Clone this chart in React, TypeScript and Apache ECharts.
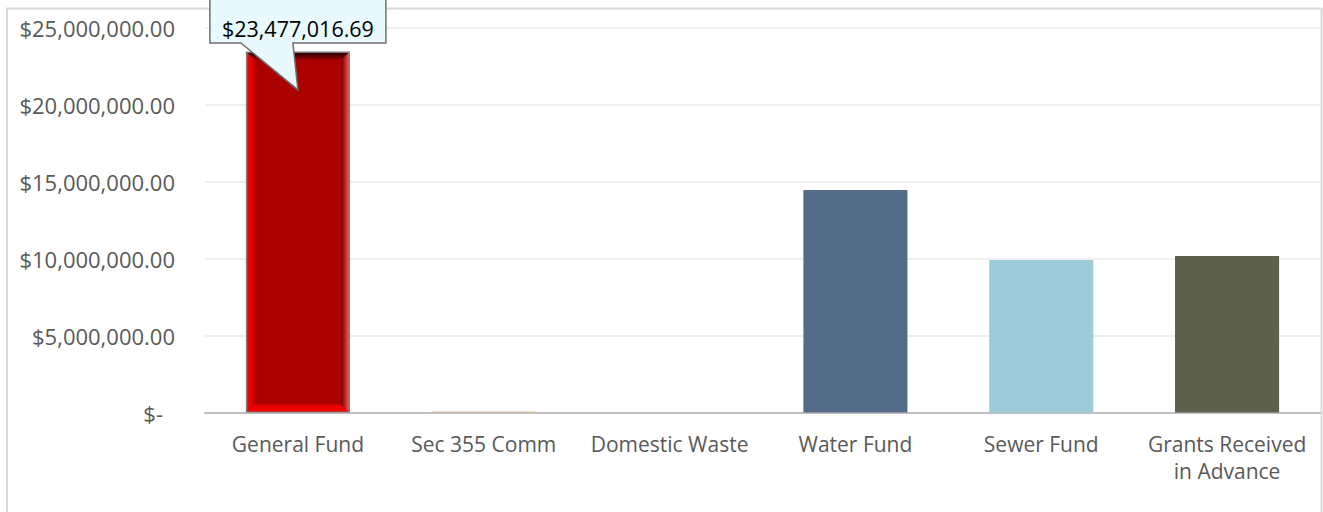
import React, { useEffect, useRef } from "react";
import * as echarts from "echarts";

const categories = [
  "General Fund",
  "Sec 355 Comm",
  "Domestic Waste",
  "Water Fund",
  "Sewer Fund",
  "Grants Received\nin Advance",
];
const values = [23477016.69, 75000, 0, 14470000, 9920000, 10180000];
const barColors = ["#AA0000", "#D9BF9E", "#C9C9C9", "#536D89", "#9DCBDA", "#5D614B"];
const yTicks = { min: 0, max: 25000000, interval: 5000000 };
const calloutIndex = 0;

const FONT = "'Open Sans', 'Noto Sans', sans-serif";

function money(v: number): string {
  return "$" + v.toLocaleString("en-US", { minimumFractionDigits: 2, maximumFractionDigits: 2 });
}

export default function App() {
  const ref = useRef<HTMLDivElement>(null);
  useEffect(() => {
    if (!ref.current) return;
    const chart = echarts.init(ref.current, undefined, { renderer: "svg" });
    const BAR_RATIO = 0.56;
    chart.setOption({
      animation: false,
      backgroundColor: "#ffffff",
      textStyle: { fontFamily: FONT },
      grid: { left: 205, right: 3, top: 28, bottom: 99.4, containLabel: false },
      graphic: [
        {
          type: "rect",
          z: -10,
          shape: { x: 7, y: 8.5, width: 1314.5, height: 600 },
          style: { fill: "none", stroke: "#d9d9d9", lineWidth: 2 },
        },
      ],
      xAxis: {
        type: "category",
        data: categories,
        axisLine: { lineStyle: { color: "#c0c0c0", width: 2 } },
        axisTick: { show: false },
        axisLabel: {
          interval: 0,
          color: "#595959",
          fontFamily: FONT,
          fontSize: 21,
          lineHeight: 27,
          margin: 18,
        },
      },
      yAxis: {
        type: "value",
        min: yTicks.min,
        max: yTicks.max,
        interval: yTicks.interval,
        axisLine: { show: false },
        axisTick: { show: false },
        splitLine: { lineStyle: { color: "#efefef", width: 2 } },
        axisLabel: {
          color: "#595959",
          fontFamily: FONT,
          fontSize: 22,
          margin: 30,
          formatter: (v: number) => (v === 0 ? "{z|$-}" : money(v)),
          rich: {
            z: { color: "#595959", fontFamily: FONT, fontSize: 22, padding: [0, 12, 0, 0] },
          },
        },
      },
      series: [
        {
          type: "bar",
          barWidth: BAR_RATIO * 100 + "%",
          z: 2,
          data: values.map((v, i) => ({
            value: v,
            itemStyle:
              i === calloutIndex
                ? { color: barColors[i], borderColor: "#7a7a7a", borderWidth: 3 }
                : { color: barColors[i] },
          })),
        },
        {
          type: "custom",
          z: 10,
          clip: false,
          data: [[calloutIndex, values[calloutIndex]]],
          renderItem: (params: any, api: any) => {
            const xi = api.value(0);
            const val = api.value(1);
            const top = api.coord([xi, val]);
            const base = api.coord([xi, 0]);
            const w = api.size([1, 0])[0] * BAR_RATIO;
            const cx = top[0];
            const ty = top[1];
            const x0 = cx - w / 2 + 1.5;
            const x1 = cx + w / 2 - 1.5;
            const y0 = ty + 1.5;
            const y1 = base[1] - 1;
            const b = 7;
            const lg = (x: number, y: number, x2: number, y2: number, c1: string, c2: string) =>
              new echarts.graphic.LinearGradient(x, y, x2, y2, [
                { offset: 0, color: c1 },
                { offset: 1, color: c2 },
              ]);
            const children: any[] = [
              {
                type: "polygon",
                shape: { points: [[x0, y0], [x1, y0], [x1 - b, y0 + b], [x0 + b, y0 + b]] },
                style: { fill: lg(0, 0, 0, 1, "#2a0000", "#9a0000") },
              },
              {
                type: "polygon",
                shape: { points: [[x0, y0], [x0 + b, y0 + b], [x0 + b, y1 - b], [x0, y1]] },
                style: { fill: lg(0, 0, 1, 0, "#ff0000", "#d00000") },
              },
              {
                type: "polygon",
                shape: { points: [[x0, y1], [x0 + b, y1 - b], [x1 - b, y1 - b], [x1, y1]] },
                style: { fill: lg(0, 1, 0, 0, "#ff0000", "#e00000") },
              },
              {
                type: "polygon",
                shape: { points: [[x1, y0], [x1, y1], [x1 - b, y1 - b], [x1 - b, y0 + b]] },
                style: { fill: lg(0, 0, 1, 0, "#700000", "#ff4a4a") },
              },
            ];
            const bx0 = cx - 88;
            const bx1 = cx + 88;
            const by0 = ty - 60;
            const by1 = ty - 8.5;
            children.push({
              type: "polygon",
              shape: {
                points: [
                  [bx0, by0],
                  [bx1, by0],
                  [bx1, by1],
                  [cx - 5, by1],
                  [cx, ty + 38.5],
                  [cx - 57, by1],
                  [bx0, by1],
                ],
              },
              style: { fill: "#E8F9FF", stroke: "#6f6f6f", lineWidth: 1.5 },
            });
            children.push({
              type: "text",
              style: {
                text: money(val),
                x: cx,
                y: ty - 23,
                align: "center",
                verticalAlign: "middle",
                fill: "#000000",
                font: "21.5px " + FONT,
              },
            });
            return { type: "group", children };
          },
        },
      ],
    });
    return () => chart.dispose();
  }, []);
  return (
    <div
      ref={ref}
      style={{ position: "fixed", left: 0, top: 0, width: 1323, height: 512 }}
    />
  );
}
